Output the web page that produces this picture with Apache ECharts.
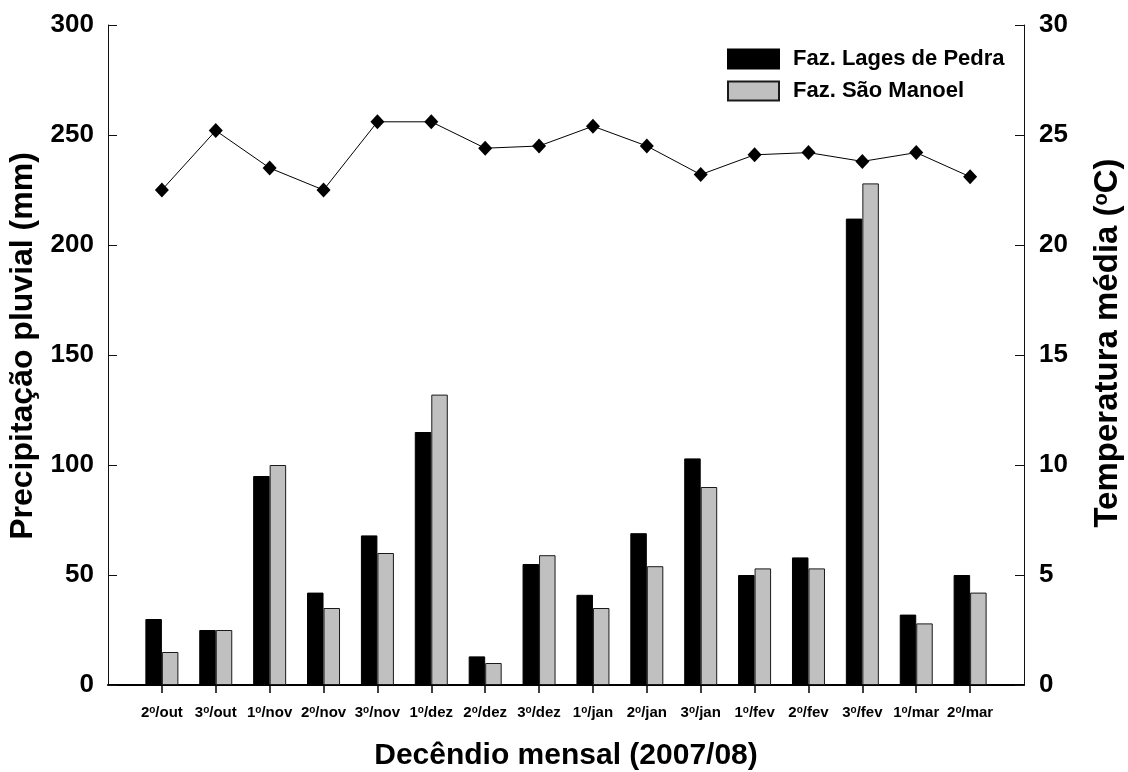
<!DOCTYPE html>
<html>
<head>
<meta charset="utf-8">
<script src="https://cdn.jsdelivr.net/npm/echarts@6/dist/echarts.min.js"></script>
<style>
  html, body { margin: 0; padding: 0; background: #fff; }
  #chart { width: 1128px; height: 772px; }
</style>
</head>
<body>
<div id="chart"></div>
<script>
// Ten-day periods (decêndios), Oct 2007 – Mar 2008
var categories = ['2º/out', '3º/out', '1º/nov', '2º/nov', '3º/nov', '1º/dez', '2º/dez', '3º/dez',
                  '1º/jan', '2º/jan', '3º/jan', '1º/fev', '2º/fev', '3º/fev', '1º/mar', '2º/mar'];

// Rainfall (mm) per farm
var lagesDePedra = [30, 25, 95, 42, 68, 115, 13, 55, 41, 69, 103, 50, 58, 212, 32, 50];
var saoManoel    = [15, 25, 100, 35, 60, 132, 10, 59, 35, 54, 90, 53, 53, 228, 28, 42];

// Mean air temperature (°C)
var temperatura = [22.5, 25.2, 23.5, 22.5, 25.6, 25.6, 24.4, 24.5, 25.4, 24.5, 23.2, 24.1, 24.2, 23.8, 24.2, 23.1];

// Axis ticks
var rainTicks = { min: 0, max: 300, interval: 50 };
var tempTicks = { min: 0, max: 30, interval: 5 };

// Pad one empty slot on each side so the periods sit on ticks 1..16
function pad(arr) { return ['-'].concat(arr, ['-']); }
var axisCats = [''].concat(categories, ['']);

var FONT = '"Liberation Sans", Arial, Helvetica, sans-serif';

var chart = echarts.init(document.getElementById('chart'), null, { renderer: 'canvas' });

chart.setOption({
  animation: false,
  backgroundColor: '#ffffff',
  textStyle: { fontFamily: FONT },
  grid: { left: 108, right: 104, top: 25, bottom: 87, containLabel: false },
  legend: {
    orient: 'vertical',
    left: 722,
    top: 43,
    itemWidth: 51,
    itemHeight: 19,
    itemGap: 10,
    icon: 'rect',
    data: ['Faz. Lages de Pedra', 'Faz. São Manoel'],
    textStyle: { fontFamily: FONT, fontWeight: 'bold', fontSize: 22, color: '#000', padding: [0, 0, 0, 9] }
  },
  xAxis: {
    type: 'category',
    data: axisCats,
    boundaryGap: false,
    axisLine: { show: true, lineStyle: { color: '#000', width: 2 } },
    axisTick: {
      show: true,
      length: 8,
      lineStyle: { color: '#000', width: 1.5 },
      interval: function (index) { return index > 0 && index < axisCats.length - 1; }
    },
    axisLabel: {
      interval: 0,
      margin: 20,
      color: '#000',
      fontFamily: FONT,
      fontWeight: 'bold',
      fontSize: 15,
      formatter: function (v) { return v ? v.replace('º', '{s|o}') : ''; },
      rich: {
        s: { fontFamily: FONT, fontWeight: 'bold', fontSize: 10, verticalAlign: 'top', color: '#000', padding: [0, 0, 6, 0] }
      }
    },
    splitLine: { show: false }
  },
  yAxis: [
    {
      type: 'value',
      position: 'left',
      min: rainTicks.min,
      max: rainTicks.max,
      interval: rainTicks.interval,
      axisLine: { show: true, lineStyle: { color: '#111', width: 1 } },
      axisTick: { show: true, inside: true, length: 9, lineStyle: { color: '#111', width: 1 } },
      axisLabel: { margin: 14, color: '#000', fontFamily: FONT, fontWeight: 'bold', fontSize: 26 },
      splitLine: { show: false }
    },
    {
      type: 'value',
      position: 'right',
      min: tempTicks.min,
      max: tempTicks.max,
      interval: tempTicks.interval,
      axisLine: { show: true, lineStyle: { color: '#111', width: 1 } },
      axisTick: { show: true, inside: true, length: 9, lineStyle: { color: '#111', width: 1 } },
      axisLabel: { margin: 15, color: '#000', fontFamily: FONT, fontWeight: 'bold', fontSize: 26 },
      splitLine: { show: false }
    }
  ],
  series: [
    {
      name: 'Faz. Lages de Pedra',
      type: 'bar',
      yAxisIndex: 0,
      data: pad(lagesDePedra),
      barWidth: 16.5,
      barGap: '0%',
      itemStyle: { color: '#000000', borderColor: '#000000', borderWidth: 1 }
    },
    {
      name: 'Faz. São Manoel',
      type: 'bar',
      yAxisIndex: 0,
      data: pad(saoManoel),
      barWidth: 16.5,
      barGap: '0%',
      itemStyle: { color: '#c0c0c0', borderColor: '#1a1a1a', borderWidth: 1 }
    },
    {
      name: 'Temperatura média',
      type: 'line',
      yAxisIndex: 1,
      data: pad(temperatura),
      symbol: 'diamond',
      symbolSize: [14, 15],
      lineStyle: { color: '#000', width: 1 },
      itemStyle: { color: '#000' },
      z: 5
    }
  ],
  graphic: [
    {
      type: 'text',
      x: 566, y: 756,
      style: { text: 'Decêndio mensal (2007/08)', font: 'bold 30px ' + FONT, fill: '#000', align: 'center', verticalAlign: 'middle' }
    },
    {
      type: 'text',
      x: 23, y: 346,
      rotation: Math.PI / 2,
      style: { text: 'Precipitação pluvial (mm)', font: 'bold 32px ' + FONT, fill: '#000', align: 'center', verticalAlign: 'middle' }
    },
    {
      type: 'text',
      x: 1108, y: 343,
      rotation: Math.PI / 2,
      style: {
        text: 'Temperatura média ({s|o}C)',
        font: 'bold 33px ' + FONT,
        fill: '#000',
        align: 'center',
        verticalAlign: 'middle',
        rich: { s: { font: 'bold 20px ' + FONT, fill: '#000', verticalAlign: 'top', padding: [0, 0, 12, 0] } }
      }
    }
  ]
});
</script>
</body>
</html>
